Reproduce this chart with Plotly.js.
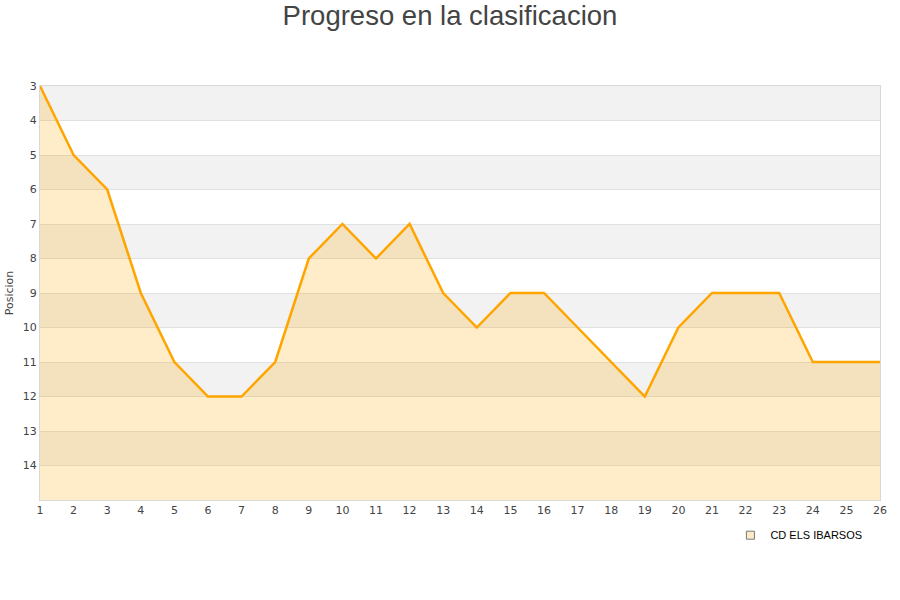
<!DOCTYPE html>
<html>
<head>
<meta charset="utf-8">
<script src="https://cdn.plot.ly/plotly-3.0.1.min.js"></script>
<style>html,body{margin:0;padding:0;background:#fff;}#chart{width:900px;height:600px;}</style>
</head>
<body>
<div id="chart"></div>
<script>
const jornadas = [1,2,3,4,5,6,7,8,9,10,11,12,13,14,15,16,17,18,19,20,21,22,23,24,25,26];
const posiciones = [3,5,6,9,11,12,12,11,8,7,8,7,9,10,9,9,10,11,12,10,9,9,9,11,11,11];
const teamName = 'CD ELS IBARSOS';
const yTicks = [3,4,5,6,7,8,9,10,11,12,13,14];
const bandStarts = [3,5,7,9,11,13];

const baseline = jornadas.map(() => 15);

const shapes = bandStarts.map(s => ({
  type: 'rect', xref: 'paper', yref: 'y', x0: 0, x1: 1, y0: s, y1: s + 1,
  fillcolor: '#f2f2f2', line: {width: 0}, layer: 'below'
}));

const traces = [
  {x: jornadas, y: baseline, mode: 'lines', line: {width: 0}, showlegend: false, hoverinfo: 'skip'},
  {x: jornadas, y: posiciones, mode: 'lines', name: teamName, fill: 'tonexty', showlegend: false,
   fillcolor: 'rgba(255,165,0,0.21)', line: {color: '#ffa500', width: 2.5}},
  {x: [null], y: [null], mode: 'markers', name: teamName, showlegend: true,
   marker: {symbol: 'square', size: 8, color: '#fdebc8', line: {color: '#777', width: 1}}}
];

const layout = {
  width: 900, height: 600,
  margin: {l: 40, r: 20, t: 86, b: 100},
  paper_bgcolor: '#fff', plot_bgcolor: 'rgba(0,0,0,0)',
  title: {text: 'Progreso en la clasificacion', x: 0.5, xanchor: 'center', y: 0.975, yanchor: 'middle',
          font: {family: 'Liberation Sans, Arial, sans-serif', size: 27.5, color: '#444'}},
  font: {family: 'DejaVu Sans, sans-serif', size: 11, color: '#444'},
  xaxis: {range: [1, 26], tickvals: jornadas, showgrid: false, zeroline: false,
          showline: true, linecolor: '#d9d9d9', linewidth: 1, mirror: true, ticks: '',
          tickfont: {size: 11, color: '#444'}},
  yaxis: {range: [15, 3], tickvals: yTicks, showgrid: true, gridcolor: '#e0e0e0', zeroline: false,
          showline: true, linecolor: '#d9d9d9', linewidth: 1, mirror: true, ticks: '',
          tickfont: {size: 11, color: '#444'},
          title: {text: 'Posicion', standoff: 6, font: {size: 11, color: '#444'}}},
  shapes: shapes,
  showlegend: true,
  legend: {orientation: 'h', x: 0.985, xanchor: 'right', y: -0.05, yanchor: 'top',
           font: {size: 11, color: '#000', family: 'Liberation Sans, Arial, sans-serif'}, bgcolor: 'rgba(0,0,0,0)'}
};

Plotly.newPlot('chart', traces, layout, {displayModeBar: false, staticPlot: true});
</script>
</body>
</html>
